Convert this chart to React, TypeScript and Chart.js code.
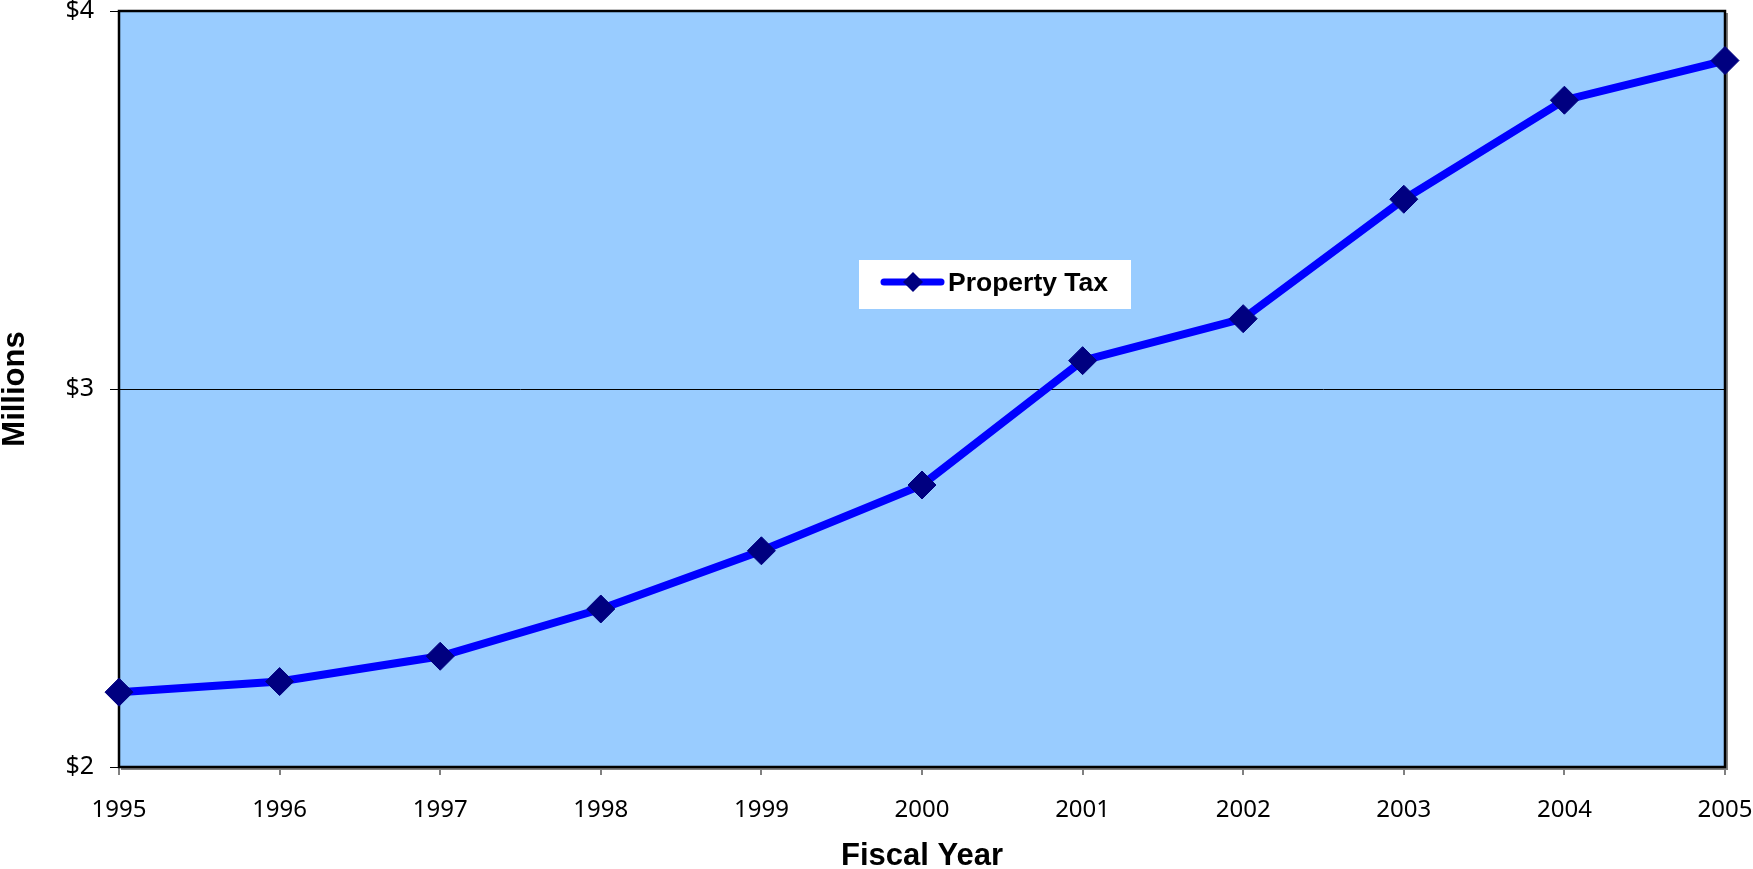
import React, { useEffect, useRef } from "react";
import { Chart, registerables } from "chart.js";

Chart.register(...registerables);

const years = ["1995", "1996", "1997", "1998", "1999", "2000", "2001", "2002", "2003", "2004", "2005"];
const propertyTax = [2.198, 2.226, 2.293, 2.418, 2.572, 2.746, 3.075, 3.186, 3.502, 3.764, 3.869];
const seriesLabel = "Property Tax";
const yTicks = [2, 3, 4];
const xTitle = "Fiscal Year";
const yTitle = "Millions";

const LINE_COLOR = "#0000FF";
const MARKER_COLOR = "#000080";
const PLOT_BG = "#99CCFF";
const TICK_FONT = "'Noto Sans', Tahoma, sans-serif";
const TITLE_FONT = "'Liberation Sans', Arial, sans-serif";

const plotPlugin = {
  id: "plotDecor",
  beforeDraw(chart: any) {
    const { ctx, chartArea } = chart;
    ctx.save();
    ctx.fillStyle = "#ffffff";
    ctx.fillRect(0, 0, chart.width, chart.height);
    ctx.fillStyle = PLOT_BG;
    ctx.fillRect(chartArea.left, chartArea.top, chartArea.right - chartArea.left, chartArea.bottom - chartArea.top);
    ctx.restore();
  },
  beforeDatasetsDraw(chart: any) {
    const { ctx, chartArea } = chart;
    ctx.save();
    const y3 = chart.scales.y.getPixelForValue(3);
    ctx.strokeStyle = "#000000";
    ctx.lineWidth = 1;
    ctx.beginPath();
    ctx.moveTo(chartArea.left, Math.round(y3) + 0.5);
    ctx.lineTo(chartArea.right, Math.round(y3) + 0.5);
    ctx.stroke();
    ctx.strokeStyle = "#808080";
    ctx.lineWidth = 2;
    ctx.beginPath();
    ctx.moveTo(chartArea.right + 2, chartArea.top + 2);
    ctx.lineTo(chartArea.right + 2, chartArea.bottom + 2);
    ctx.lineTo(chartArea.left + 2, chartArea.bottom + 2);
    ctx.stroke();
    ctx.strokeStyle = "#000000";
    ctx.lineWidth = 2.5;
    ctx.strokeRect(chartArea.left, chartArea.top, chartArea.right - chartArea.left, chartArea.bottom - chartArea.top);
    ctx.restore();
  },
  afterDraw(chart: any) {
    const { ctx } = chart;
    const ds = chart.data.datasets[0];
    ctx.save();
    const bx = 859, by = 260, bw = 272, bh = 49;
    ctx.fillStyle = "#ffffff";
    ctx.fillRect(bx, by, bw, bh);
    const cy = 282;
    ctx.strokeStyle = ds.borderColor;
    ctx.lineWidth = 7;
    ctx.lineCap = "round";
    ctx.beginPath();
    ctx.moveTo(884, cy);
    ctx.lineTo(941, cy);
    ctx.stroke();
    ctx.fillStyle = ds.pointBackgroundColor;
    const r = 10;
    const mx = 913;
    ctx.beginPath();
    ctx.moveTo(mx, cy - r);
    ctx.lineTo(mx + r, cy);
    ctx.lineTo(mx, cy + r);
    ctx.lineTo(mx - r, cy);
    ctx.closePath();
    ctx.fill();
    ctx.fillStyle = "#000000";
    ctx.font = "bold 26.5px " + TITLE_FONT;
    ctx.textBaseline = "middle";
    ctx.textAlign = "left";
    ctx.fillText(ds.label, 948, 284);
    ctx.restore();
  },
};

export default function App() {
  const ref = useRef<HTMLCanvasElement | null>(null);

  useEffect(() => {
    if (!ref.current) return;
    const chart = new Chart(ref.current, {
      type: "line",
      data: {
        labels: years,
        datasets: [
          {
            label: seriesLabel,
            data: propertyTax,
            borderColor: LINE_COLOR,
            backgroundColor: LINE_COLOR,
            borderWidth: 8,
            pointStyle: "rectRot",
            pointRadius: 14,
            pointBackgroundColor: MARKER_COLOR,
            pointBorderColor: MARKER_COLOR,
            pointBorderWidth: 1,
            tension: 0,
            clip: false as any,
          },
        ],
      },
      plugins: [plotPlugin],
      options: {
        animation: false,
        responsive: false,
        devicePixelRatio: 1,
        layout: { autoPadding: false, padding: { top: 11, right: 28, left: 0, bottom: 0 } },
        plugins: {
          legend: { display: false },
          tooltip: { enabled: false },
        },
        scales: {
          x: {
            type: "category",
            offset: false,
            grid: {
              display: true,
              drawOnChartArea: false,
              drawTicks: true,
              tickLength: 8,
              color: "#808080",
              lineWidth: 2,
            },
            border: { display: false },
            ticks: {
              color: "#000000",
              padding: 21,
              maxRotation: 0,
              autoSkip: false,
              font: { family: TICK_FONT, size: 24 },
            },
            title: {
              display: true,
              text: xTitle,
              color: "#000000",
              padding: 0,
              font: { family: TITLE_FONT, size: 31, weight: "bold", lineHeight: 0.78 },
            },
            afterFit(scale: any) {
              scale.height = 102;
              scale.paddingLeft = 0;
              scale.paddingRight = 28;
            },
          },
          y: {
            type: "linear",
            min: 2,
            max: 4,
            afterBuildTicks(scale: any) {
              scale.ticks = yTicks.map((v) => ({ value: v }));
            },
            grid: {
              display: true,
              drawOnChartArea: false,
              drawTicks: true,
              tickLength: 9,
              color: "#000000",
              lineWidth: 1,
            },
            border: { display: false },
            ticks: {
              color: "#000000",
              padding: 16,
              font: { family: TICK_FONT, size: 25, lineHeight: 1 },
              callback: (v: any) => "$" + v,
            },
            title: {
              display: true,
              text: yTitle,
              color: "#000000",
              padding: { top: 0 },
              font: { family: TITLE_FONT, size: 31, weight: "bold", lineHeight: 1 },
            },
            afterFit(scale: any) {
              scale.width = 119;
              scale.paddingTop = 0;
              scale.paddingBottom = 0;
            },
          },
        },
      },
    });
    return () => chart.destroy();
  }, []);

  return (
    <div style={{ position: "absolute", left: 0, top: 0, width: 1753, height: 869, background: "#fff" }}>
      <canvas ref={ref} width={1753} height={869} style={{ display: "block", width: 1753, height: 869 }} />
    </div>
  );
}
